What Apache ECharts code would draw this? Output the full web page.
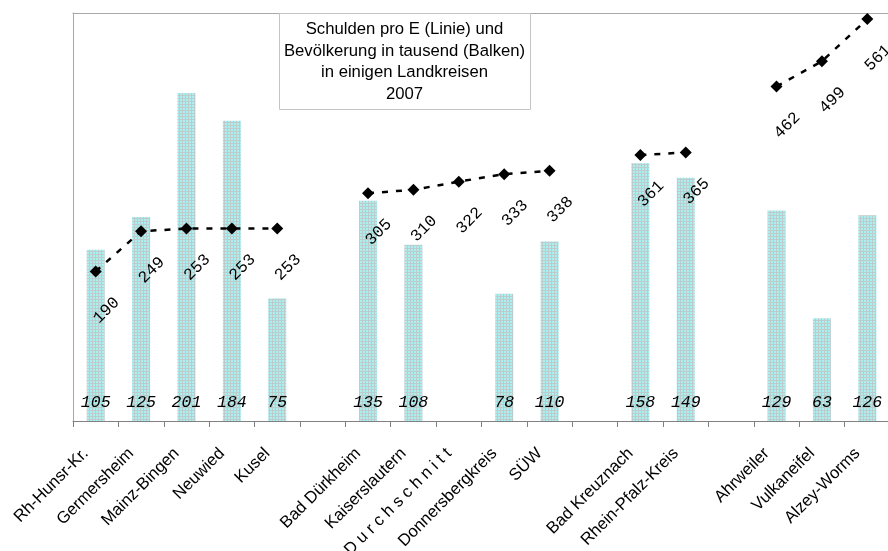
<!DOCTYPE html>
<html>
<head>
<meta charset="utf-8">
<script src="https://cdn.jsdelivr.net/npm/echarts@6/dist/echarts.min.js"></script>
<style>
  html, body { margin: 0; padding: 0; background: #fff; }
  #chart { width: 888px; height: 551px; }
</style>
</head>
<body>
<div id="chart"></div>
<script>
// Landkreise (leere Einträge = Lücken zwischen den Gruppen)
var kreise = ['Rh-Hunsr-Kr.', 'Germersheim', 'Mainz-Bingen', 'Neuwied', 'Kusel', '',
  'Bad Dürkheim', 'Kaiserslautern', 'D u r c h s c h n i t t', 'Donnersbergkreis', 'SÜW', '',
  'Bad Kreuznach', 'Rhein-Pfalz-Kreis', '',
  'Ahrweiler', 'Vulkaneifel', 'Alzey-Worms']
// Bevölkerung in tausend (Balken)
var bevoelkerung = [105, 125, 201, 184, 75, null,
  135, 108, null, 78, 110, null,
  158, 149, null,
  129, 63, 126]
// Schulden pro Einwohner (Linie)
var schulden = [190, 249, 253, 253, 253, null,
  305, 310, 322, 333, 338, null,
  361, 365, null,
  462, 499, 561]

// kleines Karomuster für die Balken
function makePattern () {
  var c = document.createElement('canvas')
  c.width = 3
  c.height = 3
  var ctx = c.getContext('2d')
  ctx.fillStyle = '#bccccc'
  ctx.fillRect(0, 0, 3, 3)
  ctx.fillStyle = '#aaf0f0'
  ctx.fillRect(0, 0, 2, 2)
  return c
}

var chart = echarts.init(document.getElementById('chart'))
var option = {
  animation: false,
  backgroundColor: '#fff',
  grid: {
    left: 73,
    top: 13,
    width: 817,
    height: 408,
    outerBoundsMode: 'none'
  },
  graphic: [
    {
      type: 'rect',
      x: 279.5,
      y: 13.5,
      z: 10,
      shape: { width: 251, height: 96 },
      style: { fill: '#fff', stroke: '#c4c4c4', lineWidth: 1 }
    },
    {
      type: 'text',
      x: 404.5,
      y: 62,
      z: 11,
      style: {
        text: 'Schulden pro E (Linie) und\nBevölkerung in tausend (Balken)\nin einigen Landkreisen\n2007',
        align: 'center',
        verticalAlign: 'middle',
        fontFamily: 'Liberation Sans',
        fontSize: 16.7,
        lineHeight: 21.5,
        fill: '#000'
      }
    }
  ],
  xAxis: [
    {
      type: 'category',
      data: kreise,
      axisLine: { onZero: false, lineStyle: { color: '#808080', width: 1 } },
      axisTick: { show: true, interval: 0, length: 6, lineStyle: { color: '#808080' } },
      axisLabel: {
        interval: 0,
        rotate: 45,
        margin: 20,
        padding: [0, 14, 0, 0],
        color: '#000',
        fontFamily: 'Liberation Sans',
        fontSize: 16.7
      },
      splitLine: { show: false }
    },
    {
      type: 'category',
      data: kreise,
      position: 'top',
      axisLine: { onZero: false, lineStyle: { color: '#a8a8a8', width: 1 } },
      axisTick: { show: false },
      axisLabel: { show: false }
    }
  ],
  yAxis: [
    {
      type: 'value',
      min: 0,
      max: 250,
      axisLine: { show: true, onZero: false, lineStyle: { color: '#a8a8a8' } },
      axisTick: { show: false },
      axisLabel: { show: false },
      splitLine: { show: false }
    },
    { type: 'value', min: -30, max: 570, show: false }
  ],
  series: [
    {
      name: 'Bevölkerung',
      type: 'bar',
      yAxisIndex: 0,
      data: bevoelkerung,
      barWidth: 18,
      itemStyle: {
        color: { image: makePattern(), repeat: 'repeat' }
      },
      label: {
        show: true,
        position: 'insideBottom',
        distance: 10,
        color: '#000',
        fontFamily: 'Liberation Mono',
        fontStyle: 'italic',
        fontSize: 16.5
      }
    },
    {
      name: 'Schulden',
      type: 'line',
      yAxisIndex: 1,
      data: schulden,
      connectNulls: false,
      symbol: 'diamond',
      symbolSize: 12,
      itemStyle: { color: '#000' },
      lineStyle: { color: '#000', width: 2.5, type: [6, 8] },
      label: {
        show: true,
        position: 'inside',
        offset: [-20, 35],
        rotate: 45,
        align: 'center',
        verticalAlign: 'middle',
        color: '#000',
        fontFamily: 'Liberation Mono',
        fontSize: 16.5
      },
      z: 5
    }
  ]
}
chart.setOption(option)
</script>
</body>
</html>
